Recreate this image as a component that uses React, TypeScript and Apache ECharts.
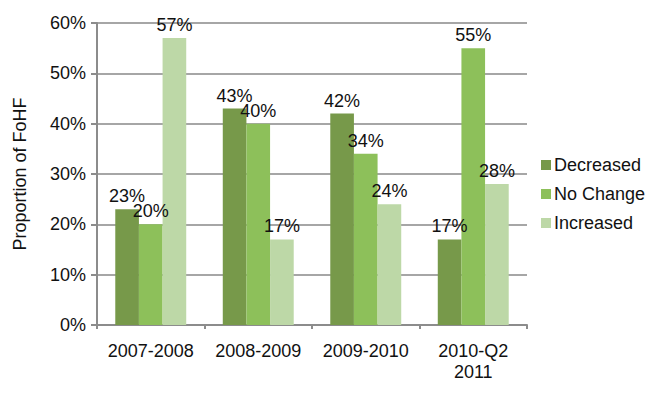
import React, { useEffect, useRef } from "react";
import * as echarts from "echarts";

const categories = ["2007-2008", "2008-2009", "2009-2010", "2010-Q2\n2011"];
const decreased = [23, 43, 42, 17];
const noChange = [20, 40, 34, 55];
const increased = [57, 17, 24, 28];
const yTicks = [0, 10, 20, 30, 40, 50, 60];

const FONT = "'Liberation Sans', Arial, sans-serif";
const FS = 18;

export default function App() {
  const ref = useRef<HTMLDivElement>(null);
  useEffect(() => {
    if (!ref.current) return;
    const chart = echarts.init(ref.current, undefined, { renderer: "svg" });
    const label = {
      show: true,
      position: "top" as const,
      distance: 4,
      formatter: "{c}%",
      color: "#111",
      fontSize: FS,
      fontFamily: FONT,
    };
    const mk = (name: string, data: number[], color: string) => ({
      name,
      type: "bar" as const,
      data,
      barGap: "0%",
      barCategoryGap: "34%",
      itemStyle: { color },
      label,
      labelLayout: { hideOverlap: false },
    });
    chart.setOption({
      animation: false,
      backgroundColor: "#fff",
      textStyle: { fontFamily: FONT },
      grid: { left: 97, right: 145, top: 23, bottom: 71, containLabel: false },
      legend: {
        orient: "vertical",
        left: 536,
        top: 151,
        itemWidth: 10,
        itemHeight: 10,
        itemGap: 11,
        icon: "rect",
        textStyle: { fontSize: FS, fontFamily: FONT, color: "#111", padding: [0, 0, 0, -2] },
        data: ["Decreased", "No Change", "Increased"],
      },
      xAxis: {
        type: "category",
        data: categories,
        axisLine: { lineStyle: { color: "#8c8c8c", width: 2 } },
        axisTick: { show: true, length: 4, lineStyle: { color: "#8c8c8c", width: 2 } },
        axisLabel: {
          interval: 0,
          hideOverlap: false,
          fontSize: FS,
          fontFamily: FONT,
          color: "#111",
          margin: 15,
          lineHeight: 21,
        },
      },
      yAxis: {
        type: "value",
        min: yTicks[0],
        max: yTicks[yTicks.length - 1],
        interval: 10,
        name: "Proportion of FoHF",
        nameLocation: "middle",
        nameGap: 68,
        nameRotate: 90,
        nameTextStyle: { fontSize: FS, fontFamily: FONT, color: "#111" },
        axisLine: { show: true, lineStyle: { color: "#8c8c8c", width: 2 } },
        axisTick: { show: true, length: 6, lineStyle: { color: "#8c8c8c", width: 2 } },
        axisLabel: { fontSize: FS, fontFamily: FONT, color: "#111", margin: 11, formatter: "{value}%" },
        splitLine: { lineStyle: { color: "#a6a6a6", width: 2 } },
      },
      series: [
        mk("Decreased", decreased, "#77994a"),
        mk("No Change", noChange, "#8dc05a"),
        mk("Increased", increased, "#bdd8a7"),
      ],
    });
    return () => chart.dispose();
  }, []);
  return (
    <div
      ref={ref}
      style={{ width: 672, height: 396, position: "absolute", left: 0, top: 0 }}
    />
  );
}
